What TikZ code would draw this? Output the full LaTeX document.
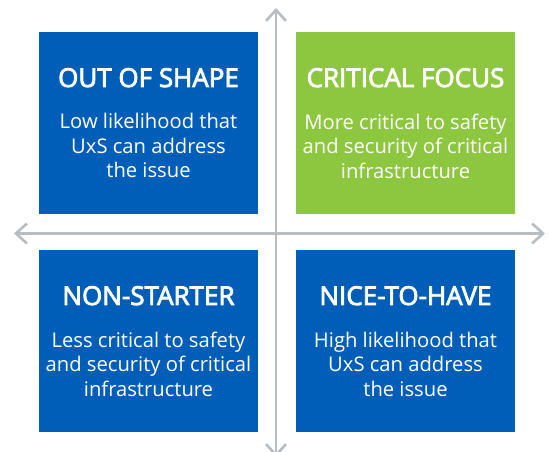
\documentclass[tikz,border=0pt]{standalone}
\usepackage{fontspec}
\setmainfont{Open Sans}
\newfontfamily\quadtitlefont[FakeBold=3.2]{Open Sans}
\usepackage{tikz}
\usetikzlibrary{arrows.meta,positioning,calc}
\definecolor{quadblue}{RGB}{0,94,184}
\definecolor{quadgreen}{RGB}{141,198,63}
\definecolor{axisgray}{RGB}{184,189,194}
\tikzstyle{quad}=[rectangle,minimum width=219pt,minimum height=182pt,inner sep=0pt]
\tikzstyle{qtitle}=[text=white,inner sep=0pt,font=\quadtitlefont\fontsize{26}{30}\selectfont]
\tikzstyle{qbody}=[text=white,inner sep=0pt,align=center,font=\fontsize{20.2}{24.5}\selectfont]
\tikzstyle{axis}=[draw=axisgray,line width=2.6pt,{Straight Barb[length=11pt,width=20pt,line width=2.6pt]}-{Straight Barb[length=11pt,width=20pt,line width=2.6pt]}]

\begin{document}
\begin{tikzpicture}[x=1pt,y=1pt]
      \useasboundingbox (0,0) rectangle (551,452);
      % axes
      \coordinate (up)    at (276,444);
      \coordinate (down)  at (276,-5);
      \coordinate (west)  at (14,218.5);
      \coordinate (east)  at (545,218.5);
      \draw[axis] (down) -- (up);
      \draw[axis] (west) -- (east);
      % quadrants
      \node[quad,fill=quadblue]  at (148.5,329) (oos) {};
      \node[quad,fill=quadgreen] at (405.5,329) (cf)  {};
      \node[quad,fill=quadblue]  at (148.5,111) (ns)  {};
      \node[quad,fill=quadblue]  at (405.5,111) (nth) {};
      \node[qtitle,anchor=base] at ($(oos.center)+(0,36)$) (oostitle) {OUT OF SHAPE};
      \node[qtitle,anchor=base] at ($(cf.center)+(0,36)$)  (cftitle)  {CRITICAL FOCUS};
      \node[qtitle,anchor=base] at ($(ns.center)+(0,36)$)  (nstitle)  {NON-STARTER};
      \node[qtitle,anchor=base] at ($(nth.center)+(0,36)$) (nthtitle) {NICE-TO-HAVE};
      \node[qbody,below=26pt of oostitle] (oosbody) {Low likelihood that\\UxS can address\\the issue};
      \node[qbody,below=26pt of cftitle]  (cfbody)  {More critical to safety\\and security of critical\\infrastructure};
      \node[qbody,below=26pt of nstitle]  (nsbody)  {Less critical to safety\\and security of critical\\infrastructure};
      \node[qbody,below=26pt of nthtitle] (nthbody) {High likelihood that\\UxS can address\\the issue};
\end{tikzpicture}
\end{document}
